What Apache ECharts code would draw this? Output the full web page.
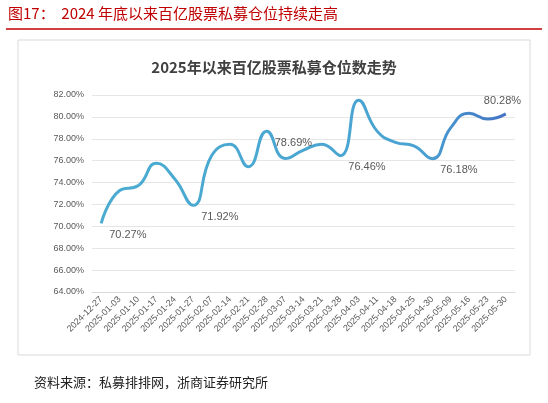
<!DOCTYPE html>
<html><head><meta charset="utf-8">
<script src="https://cdn.jsdelivr.net/npm/echarts@6/dist/echarts.min.js"></script>
<style>body{margin:0;background:#fff}#c{width:548px;height:403px}</style></head>
<body><div id="c"></div>
<script>
const categories=['2024-12-27','2025-01-03','2025-01-10','2025-01-17','2025-01-24','2025-01-27','2025-02-07','2025-02-14','2025-02-21','2025-02-28','2025-03-07','2025-03-14','2025-03-21','2025-03-28','2025-04-03','2025-04-11','2025-04-18','2025-04-25','2025-04-30','2025-05-09','2025-05-16','2025-05-23','2025-05-30'];
const values=[70.27,73.27,73.7,75.76,74.33,71.92,76.45,77.5,75.45,78.69,76.2,76.97,77.5,76.46,81.52,78.7,77.67,77.36,76.18,79.0,80.33,79.8,80.28];
const labeled=[0,5,9,13,18,22];
const chart=echarts.init(document.getElementById('c'));
chart.setOption({
  animation:false,
  graphic:[
    {type:'text',left:8,top:6,style:{text:'图17：  2024 年底以来百亿股票私募仓位持续走高',font:'15px "Noto Sans CJK SC"',fill:'#c00000'}},
    {type:'line',shape:{x1:6,y1:29,x2:542,y2:29},style:{stroke:'#c00000',lineWidth:1.5}},
    {type:'rect',shape:{x:18,y:40,width:512,height:315},style:{fill:'none',stroke:'#d9d9d9',lineWidth:1}},
    {type:'text',left:'center',top:60,style:{text:'2025年以来百亿股票私募仓位数走势',font:'bold 15px "Noto Sans CJK SC"',fill:'#404040'}},
    {type:'text',left:34,top:376,style:{text:'资料来源：私募排排网，浙商证券研究所',font:'13px "Noto Sans CJK SC"',fill:'#222'}}
  ],
  grid:{left:92,right:33,top:95,bottom:111},
  xAxis:{type:'category',data:categories,axisLine:{lineStyle:{color:'#d9d9d9'}},axisTick:{show:false},
    axisLabel:{rotate:45,interval:0,fontSize:9,color:'#595959',margin:6}},
  yAxis:{type:'value',min:64,max:82,interval:2,axisLabel:{formatter:v=>v.toFixed(2)+'%',fontSize:9,color:'#595959'},
    splitLine:{lineStyle:{color:'#e6e6e6'}}},
  series:[{type:'line',data:values.map((v,i)=>({value:v,label:{show:labeled.includes(i),position:i===22?[-22,-18]:[8,6]}})),smooth:0.5,
    symbol:'circle',symbolSize:0,showSymbol:true,
    lineStyle:{width:3,color:new echarts.graphic.LinearGradient(0,0,1,0,[{offset:0,color:'#4bacd0'},{offset:0.78,color:'#4aa3d2'},{offset:1,color:'#4472c4'}])},
    itemStyle:{color:'#4aa3d2'},
    label:{fontSize:11,color:'#595959',formatter:p=>p.value.toFixed(2)+'%'}}]
});
</script></body></html>
